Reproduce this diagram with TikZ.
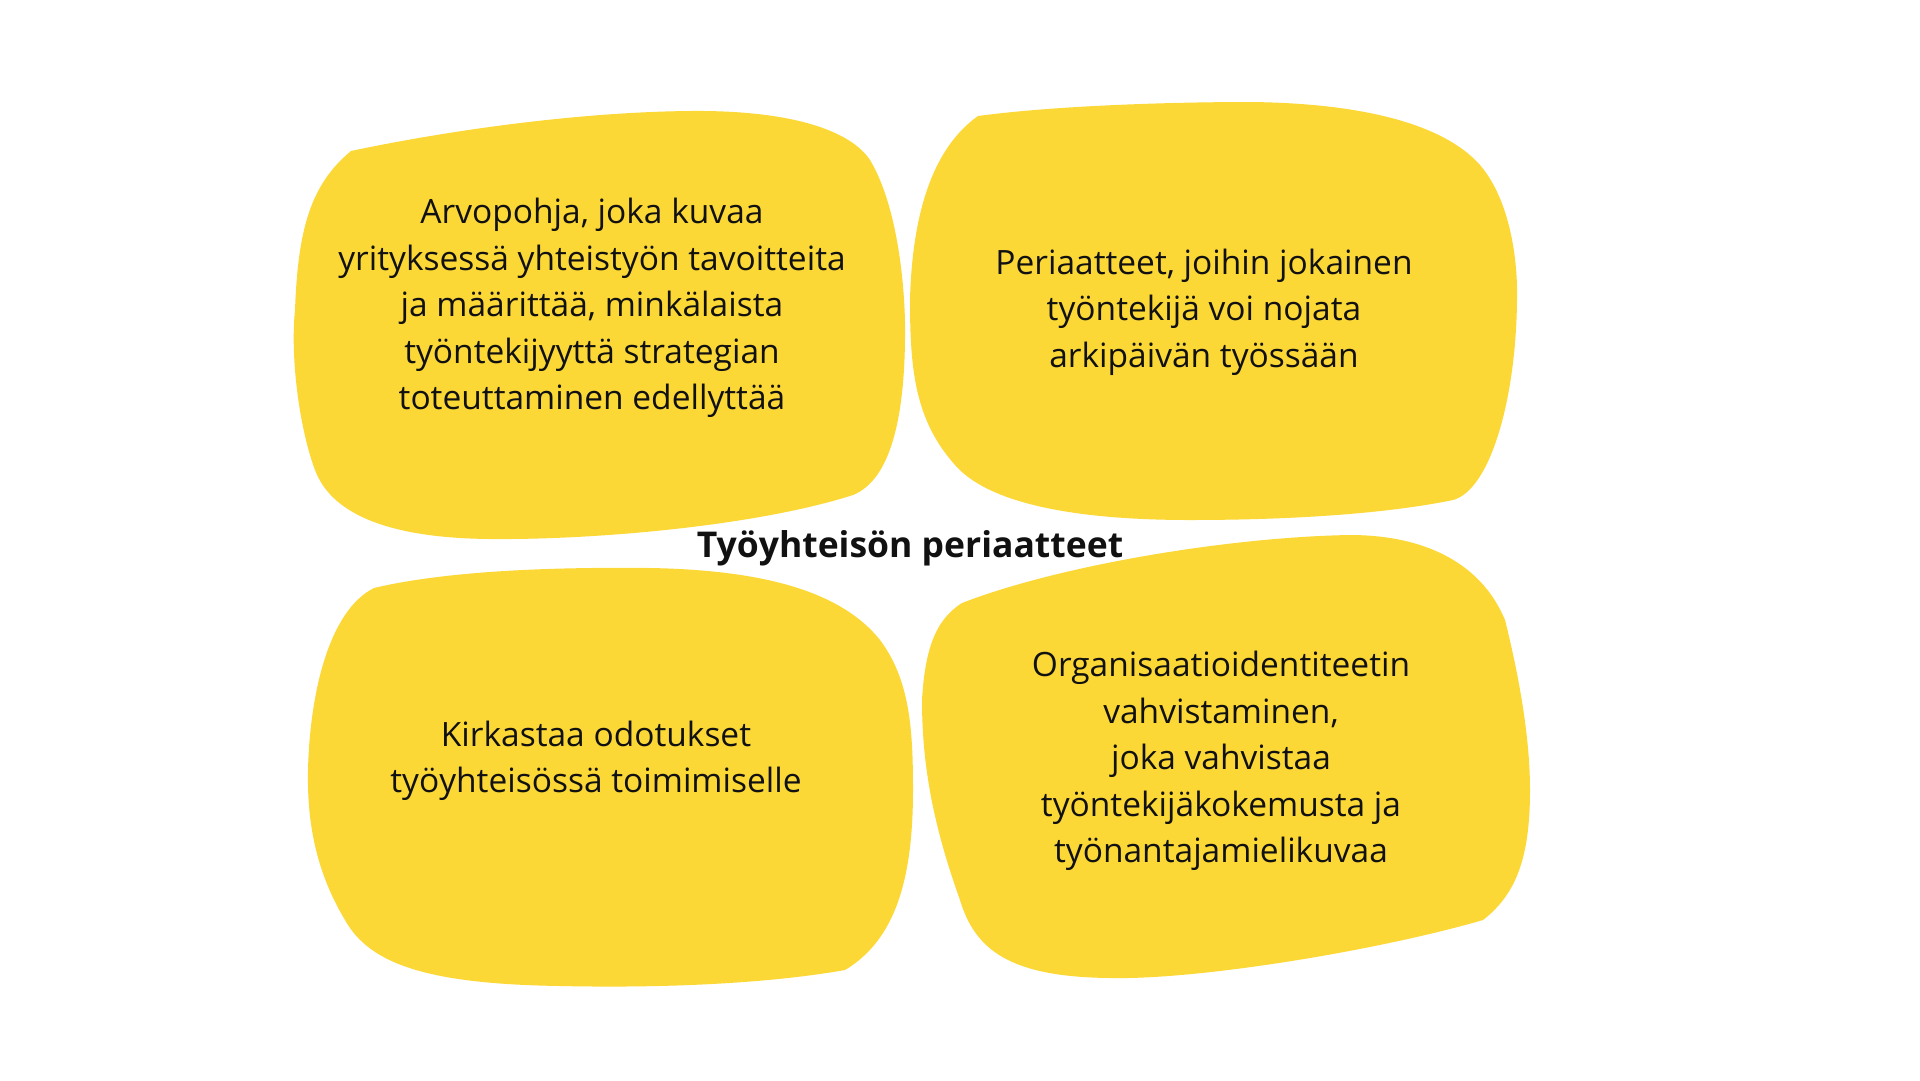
\documentclass[tikz,border=0pt]{standalone}
\usepackage{fontspec}
\setmainfont{Open Sans}
\definecolor{blob}{HTML}{FCD837}
\definecolor{ink}{HTML}{111111}
\tikzset{
  blobfill/.style={fill=blob, draw=none},
  bodytext/.style={align=center, text=ink, font=\fontsize{33.5}{46.5}\selectfont, inner sep=0pt},
  titletext/.style={text=ink, font=\fontsize{35.5}{40}\selectfont\bfseries, inner sep=0pt}
}
\begin{document}
\begin{tikzpicture}[x=1pt,y=-1pt]
\useasboundingbox[fill=white] (0,0) rectangle (1920,1080);
% blob 1 (top left)
\path[blobfill] (351,151) .. controls (450,130) and (580,112) .. (690,111)
 .. controls (790,110) and (850,130) .. (870,160)
 .. controls (900,210) and (906,300) .. (905,340)
 .. controls (904,420) and (890,480) .. (853,495)
 .. controls (760,525) and (600,540) .. (490,539)
 .. controls (380,538) and (330,510) .. (315,470)
 .. controls (300,430) and (290,360) .. (295,310)
 .. controls (298,230) and (310,185) .. (351,151) -- cycle;
% blob 2 (top right)
\path[blobfill] (978,116) .. controls (1060,105) and (1180,102) .. (1250,102)
 .. controls (1350,103) and (1440,120) .. (1480,165)
 .. controls (1510,200) and (1518,260) .. (1517,300)
 .. controls (1516,400) and (1490,490) .. (1453,500)
 .. controls (1380,515) and (1280,520) .. (1190,520)
 .. controls (1080,520) and (990,505) .. (955,465)
 .. controls (915,420) and (910,370) .. (910,300)
 .. controls (912,220) and (930,150) .. (978,116) -- cycle;
% blob 3 (bottom left)
\path[blobfill] (374,588) .. controls (450,570) and (560,567) .. (650,568)
 .. controls (760,570) and (840,590) .. (880,640)
 .. controls (910,680) and (913,730) .. (913,790)
 .. controls (913,880) and (895,940) .. (845,970)
 .. controls (760,985) and (650,988) .. (560,986)
 .. controls (430,984) and (370,965) .. (345,920)
 .. controls (315,870) and (307,820) .. (308,770)
 .. controls (310,690) and (330,610) .. (374,588) -- cycle;
% blob 4 (bottom right)
\path[blobfill] (962,603) .. controls (1060,565) and (1230,537) .. (1350,535)
 .. controls (1420,535) and (1480,560) .. (1505,620)
 .. controls (1520,680) and (1530,740) .. (1530,790)
 .. controls (1530,860) and (1515,895) .. (1483,920)
 .. controls (1380,950) and (1200,980) .. (1110,978)
 .. controls (1010,977) and (975,950) .. (960,900)
 .. controls (935,830) and (922,770) .. (922,700)
 .. controls (925,650) and (935,620) .. (962,603) -- cycle;
% texts
\node[bodytext] (t1) at (592,308) {Arvopohja, joka kuvaa\\yrityksessä yhteistyön tavoitteita\\ja määrittää, minkälaista\\työntekijyyttä strategian\\toteuttaminen edellyttää};
\node[bodytext] (t2) at (1204,312) {Periaatteet, joihin jokainen\\työntekijä voi nojata\\arkipäivän työssään};
\node[bodytext] (t3) at (596,761) {Kirkastaa odotukset\\työyhteisössä toimimiselle};
\node[bodytext] (t4) at (1221,761) {Organisaatioidentiteetin\\vahvistaminen,\\joka vahvistaa\\työntekijäkokemusta ja\\työnantajamielikuvaa};
\node[titletext] (title) at (910,548) {Työyhteisön periaatteet};
\end{tikzpicture}
\end{document}
